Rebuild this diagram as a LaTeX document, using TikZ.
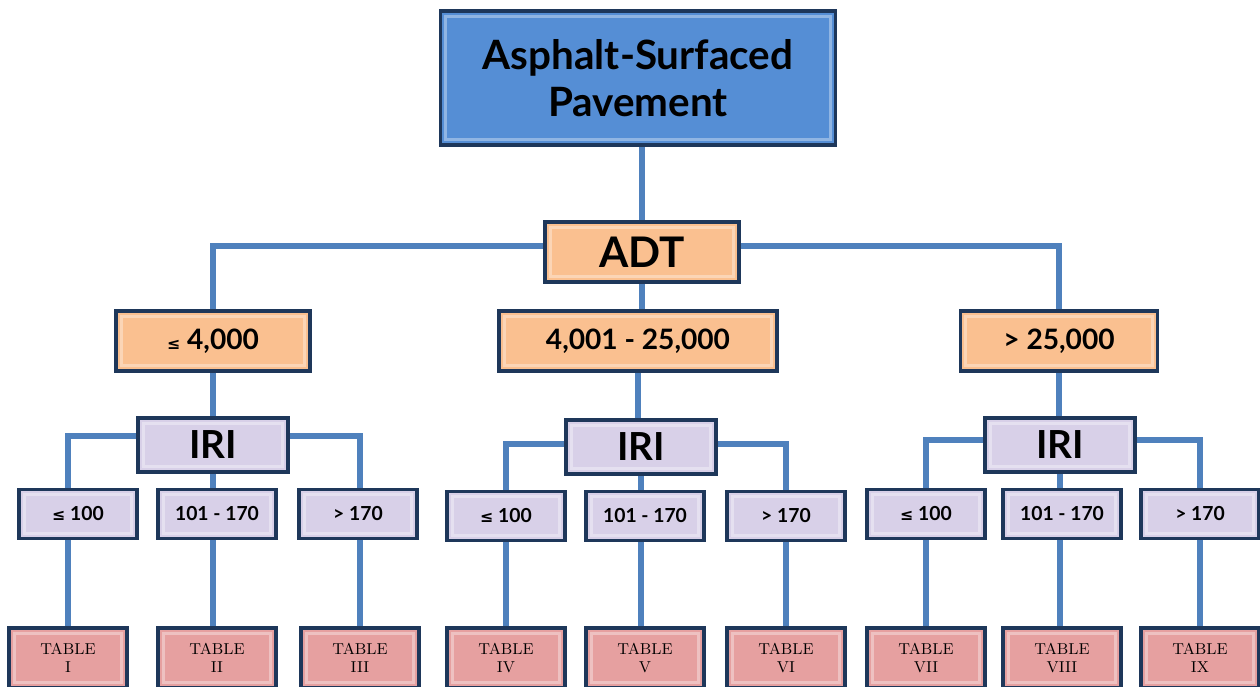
\documentclass[tikz,border=0pt]{standalone}
\usepackage{fontspec}
\setmainfont{Lato}
\newfontfamily\symfont{DejaVu Sans}
\newfontfamily\tabfont{Latin Modern Roman}
\usetikzlibrary{backgrounds}

\definecolor{linkblue}{RGB}{79,129,189}
\definecolor{rootblue}{RGB}{85,142,213}
\definecolor{adtorange}{RGB}{250,192,144}
\definecolor{irililac}{RGB}{216,208,232}
\definecolor{tabpink}{RGB}{230,160,160}
\definecolor{rim}{RGB}{30,55,90}

\newcommand{\lesseq}{{\symfont\fontsize{9}{9}\selectfont ≤}}

\tikzset{
  box/.style={rectangle,draw=rim,line width=2.2pt,inner sep=0pt,align=center,font=\bfseries,
    path picture={\draw[white,opacity=.35,line width=1.6pt]
      ([shift={(3pt,-3pt)}]path picture bounding box.north west) rectangle
      ([shift={(-3pt,3pt)}]path picture bounding box.south east);}},
  rootbox/.style={box,fill=rootblue,minimum width=7.9cm,minimum height=2.68cm,font=\bfseries\fontsize{23}{27}\selectfont},
  adtbox/.style={box,fill=adtorange,minimum height=1.2cm,font=\bfseries\fontsize{16}{19}\selectfont},
  iribox/.style={box,fill=irililac,minimum width=3.0cm,minimum height=1.08cm,font=\bfseries\fontsize{22}{26}\selectfont},
  leafbox/.style={box,fill=irililac,minimum width=2.35cm,minimum height=0.98cm,font=\bfseries\fontsize{11}{13}\selectfont},
  tablebox/.style={box,fill=tabpink,minimum width=2.35cm,minimum height=1.2cm,font=\tabfont\fontsize{9}{10}\selectfont},
  link/.style={draw=linkblue,line width=3.1pt}
}

\begin{document}
\begin{tikzpicture}[x=0.02cm,y=-0.02cm]
  \useasboundingbox (0,0) rectangle (1260,686);

  \node[rootbox] (root) at (638,78) {Asphalt-Surfaced\\Pavement};
  \node[adtbox,minimum width=3.88cm,font=\bfseries\fontsize{24}{28}\selectfont] (adt) at (642,252) {ADT};

  \begin{scope}[every node/.style={adtbox}]
    \node[minimum width=3.88cm] (a1) at (213,341) {\lesseq{} 4,000};
    \node[minimum width=5.56cm] (a2) at (638,341) {4,001 - 25,000};
    \node[minimum width=3.94cm] (a3) at (1059,341) {> 25,000};
  \end{scope}

  \begin{scope}[every node/.style={iribox}]
    \node (iri1) at (213,445) {IRI};
    \node (iri2) at (641,447) {IRI};
    \node (iri3) at (1060,445) {IRI};
  \end{scope}

  \begin{scope}[every node/.style={leafbox}]
    \node (l1) at (78,514)   {\lesseq{} 100};
    \node (l2) at (217,514)  {101 - 170};
    \node (l3) at (358,514)  {> 170};
    \node (l4) at (506,516)  {\lesseq{} 100};
    \node (l5) at (645,516)  {101 - 170};
    \node (l6) at (786,516)  {> 170};
    \node (l7) at (926,514)  {\lesseq{} 100};
    \node (l8) at (1062,514) {101 - 170};
    \node (l9) at (1200,514) {> 170};
  \end{scope}

  \begin{scope}[every node/.style={tablebox}]
    \node (t1) at (68,658)   {TABLE\\I};
    \node (t2) at (217,658)  {TABLE\\II};
    \node (t3) at (360,658)  {TABLE\\III};
    \node (t4) at (506,658)  {TABLE\\IV};
    \node (t5) at (645,658)  {TABLE\\V};
    \node (t6) at (786,658)  {TABLE\\VI};
    \node (t7) at (926,658)  {TABLE\\VII};
    \node (t8) at (1062,658) {TABLE\\VIII};
    \node (t9) at (1200,658) {TABLE\\IX};
  \end{scope}

  \begin{scope}[on background layer,every path/.style={link}]
    \draw (adt.north) -- (adt.north |- root.south);
    \draw ([yshift=3.4pt]adt.west) -| (a1);
    \draw ([yshift=3.4pt]adt.east) -| (a3);
    \draw (adt) -- (adt |- a2.north);
    \draw (a1) -- (iri1);
    \draw (a2) -- (a2 |- iri2.north);
    \draw (a3) -- (a3 |- iri3.north);
    \draw ([yshift=5pt]iri1.west) -| (t1);
    \draw (iri1) -- (iri1 |- t2.north);
    \draw ([yshift=5pt]iri1.east) -| (t3);
    \draw ([yshift=1.7pt]iri2.west) -| (t4);
    \draw (iri2) -- (iri2 |- t5.north);
    \draw ([yshift=1.7pt]iri2.east) -| (t6);
    \draw ([yshift=2.8pt]iri3.west) -| (t7);
    \draw (iri3) -- (iri3 |- t8.north);
    \draw ([yshift=2.8pt]iri3.east) -| (t9);
  \end{scope}

\end{tikzpicture}
\end{document}
